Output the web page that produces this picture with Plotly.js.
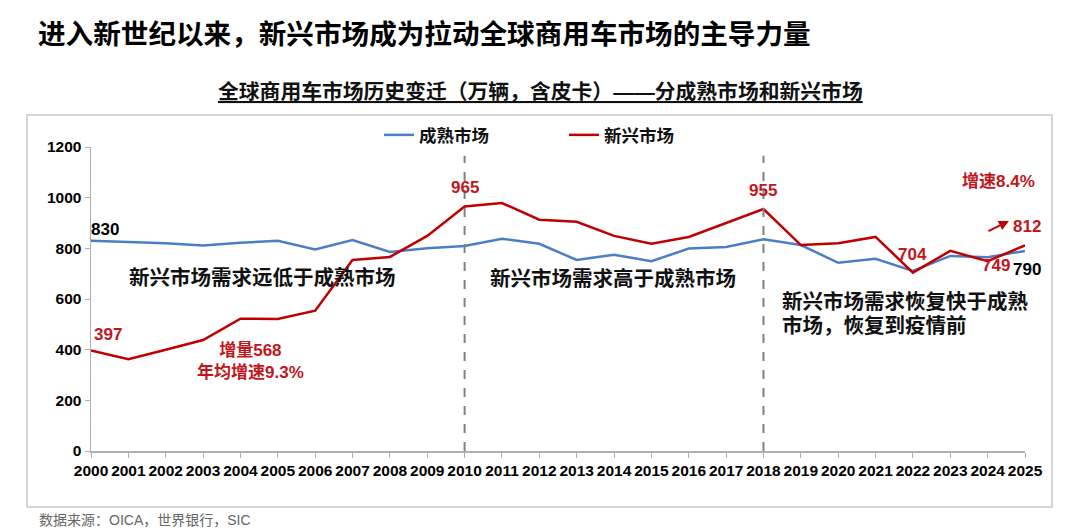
<!DOCTYPE html>
<html>
<head>
<meta charset="utf-8">
<script src="https://cdn.plot.ly/plotly-3.0.1.min.js"></script>
<style>
  html, body { margin: 0; padding: 0; background: #fff; }
  #graphDiv { width: 1080px; height: 528px; }
</style>
</head>
<body>
<div id="graphDiv"></div>
<script>
// data *********************************************
const years = [2000, 2001, 2002, 2003, 2004, 2005, 2006, 2007, 2008, 2009,
               2010, 2011, 2012, 2013, 2014, 2015, 2016, 2017, 2018, 2019,
               2020, 2021, 2022, 2023, 2024, 2025];

// 成熟市场 (万辆)
const mature = [830, 826, 820, 811, 822, 830, 796, 833, 786, 800,
                809, 838, 818, 754, 775, 749, 799, 805, 836, 813,
                743, 759, 711, 770, 765, 790];

// 新兴市场 (万辆)
const emerging = [397, 362, 400, 438, 522, 521, 554, 754, 766, 849,
                  965, 979, 913, 905, 849, 818, 845, 900, 955, 813,
                  820, 845, 704, 790, 749, 812];

const yTicks = [0, 200, 400, 600, 800, 1000, 1200];
const dividerYears = [2010, 2018];

// style *********************************************
const blue = '#4a7fc7';
const red = '#c00000';
const labelRed = '#c0161c';
const axisGray = '#b0b0b0';
const fontFam = 'Liberation Sans, Arial, "Noto Sans CJK SC", sans-serif';

const W = 1080, H = 528;
const mL = 91, mR = 55, mT = 147, mB = 77;

// pixel -> paper helpers (for page furniture only)
function px(x) { return (x - mL) / (W - mL - mR); }
function py(y) { return (H - mB - y) / (H - mT - mB); }

function idx(year) { return years.indexOf(year); }

const graphDiv = document.getElementById('graphDiv');

// labels on the points ******************************
var annotations = [
  // page title
  {
    xref: 'paper', yref: 'paper', x: px(36), y: py(35),
    xanchor: 'left', yanchor: 'middle', showarrow: false,
    text: '<b>进入新世纪以来，新兴市场成为拉动全球商用车市场的主导力量</b>',
    font: { family: fontFam, size: 27.6, color: '#000' }
  },
  // chart subtitle
  {
    xref: 'paper', yref: 'paper', x: px(540), y: py(92),
    xanchor: 'center', yanchor: 'middle', showarrow: false,
    text: '<b><u>全球商用车市场历史变迁（万辆，含皮卡）——分成熟市场和新兴市场</u></b>',
    font: { family: fontFam, size: 20.8, color: '#111' }
  },
  // source
  {
    xref: 'paper', yref: 'paper', x: px(37), y: py(520),
    xanchor: 'left', yanchor: 'middle', showarrow: false,
    text: '数据来源：OICA，世界银行，SIC',
    font: { family: fontFam, size: 14, color: '#666' }
  },

  // value labels
  { x: years[0], y: mature[0], text: '<b>' + mature[0] + '</b>', xanchor: 'left', xshift: -2, yshift: 11,
    font: { size: 17, color: '#000' } },
  { x: years[0], y: emerging[0], text: '<b>' + emerging[0] + '</b>', xanchor: 'left', xshift: 1, yshift: 16,
    font: { size: 17, color: labelRed } },
  { x: 2010, y: emerging[idx(2010)], text: '<b>' + emerging[idx(2010)] + '</b>', yshift: 19,
    font: { size: 17, color: labelRed } },
  { x: 2018, y: emerging[idx(2018)], text: '<b>' + emerging[idx(2018)] + '</b>', yshift: 19,
    font: { size: 17, color: labelRed } },
  { x: 2022, y: emerging[idx(2022)], text: '<b>' + emerging[idx(2022)] + '</b>', yshift: 18,
    font: { size: 17, color: labelRed } },
  { x: 2024, y: emerging[idx(2024)], text: '<b>' + emerging[idx(2024)] + '</b>', xshift: 8, yshift: -4,
    font: { size: 17, color: labelRed } },
  { x: 2025, y: mature[idx(2025)], text: '<b>' + mature[idx(2025)] + '</b>', xshift: 2, yshift: -19,
    font: { size: 17, color: '#000' } },
  { x: 2025, y: emerging[idx(2025)], text: '<b>' + emerging[idx(2025)] + '</b>', xshift: 2, yshift: 19,
    font: { size: 17, color: labelRed } },

  // growth arrow + text
  { x: 2024.57, y: 908, ax: -22, ay: 11, text: '', showarrow: true,
    arrowhead: 2, arrowsize: 1, arrowwidth: 2, arrowcolor: red },
  { x: 2024.28, y: 1062, text: '<b>增速8.4%</b>',
    font: { size: 17, color: labelRed } },
  { x: 2004.26, y: 355, text: '<b>增量568<br>年均增速9.3%</b>',
    font: { size: 17, color: labelRed } },

  // period notes
  { x: 2004.58, y: 683, text: '<b>新兴市场需求远低于成熟市场</b>',
    font: { size: 20.5, color: '#111' } },
  { x: 2013.96, y: 679, text: '<b>新兴市场需求高于成熟市场</b>',
    font: { size: 20.5, color: '#111' } },
  { x: 2018.45, y: 589, xanchor: 'left', text: '<b>新兴市场需求恢复快于成熟</b>',
    font: { size: 20.5, color: '#111' } },
  { x: 2018.45, y: 497, xanchor: 'left', text: '<b>市场，恢复到疫情前</b>',
    font: { size: 20.5, color: '#111' } }
];

annotations.forEach(function (a) {
  if (a.xref === undefined) { a.xref = 'x'; a.yref = 'y'; }
  if (a.showarrow === undefined) a.showarrow = false;
  if (a.yanchor === undefined) a.yanchor = 'middle';
  a.font = Object.assign({ family: fontFam }, a.font);
});

var shapes = dividerYears.map(function (yr) {
  return {
    type: 'line', xref: 'x', yref: 'y',
    x0: yr, x1: yr, y0: 0, y1: 1165,
    line: { color: '#808080', width: 2, dash: 'dash' }
  };
});

// frame round the chart
shapes.push({
  type: 'rect', xref: 'paper', yref: 'paper',
  x0: px(27), x1: px(1052), y0: py(507), y1: py(115),
  line: { color: '#c8c8c8', width: 1.5 }, layer: 'below'
});

Plotly.newPlot(
  graphDiv,
  [
    {
      name: '成熟市场',
      x: years,
      y: mature,
      mode: 'lines',
      line: { color: blue, width: 2.5 }
    },
    {
      name: '新兴市场',
      x: years,
      y: emerging,
      mode: 'lines',
      line: { color: red, width: 2.5 }
    }
  ],
  {
    width: W,
    height: H,
    margin: { l: mL, r: mR, t: mT, b: mB, pad: 0 },
    paper_bgcolor: '#fff',
    plot_bgcolor: '#fff',
    showlegend: true,
    legend: {
      orientation: 'h',
      x: px(379), y: py(135),
      xanchor: 'left', yanchor: 'middle',
      entrywidth: 140, entrywidthmode: 'pixels',
      font: { family: fontFam, size: 17.5, color: '#111', weight: 'bold' },
      bgcolor: 'rgba(0,0,0,0)'
    },
    xaxis: {
      range: [2000, 2025],
      tickmode: 'array',
      tickvals: years,
      ticktext: years.map(String),
      showgrid: false,
      zeroline: false,
      showline: true,
      linecolor: axisGray,
      linewidth: 1.5,
      ticks: 'outside',
      ticklen: 5,
      tickcolor: axisGray,
      tickfont: { family: fontFam, size: 15.5, color: '#000', weight: 'bold' }
    },
    yaxis: {
      range: [0, 1200],
      tickmode: 'array',
      tickvals: yTicks,
      showgrid: false,
      zeroline: false,
      showline: true,
      linecolor: axisGray,
      linewidth: 1.5,
      ticks: 'outside',
      ticklen: 5,
      tickcolor: axisGray,
      tickfont: { family: fontFam, size: 15.5, color: '#000', weight: 'bold' }
    },
    annotations: annotations,
    shapes: shapes
  },
  { staticPlot: true }
);
</script>
</body>
</html>
